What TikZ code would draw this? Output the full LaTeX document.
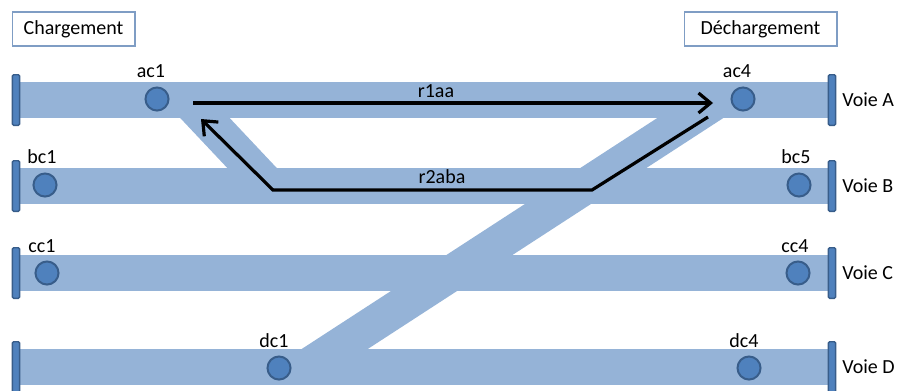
\documentclass[tikz,border=0pt]{standalone}
\usepackage{fontspec}
\setmainfont{Carlito}
\usetikzlibrary{arrows.meta}
\definecolor{trackc}{HTML}{95B3D7}
\definecolor{dotc}{HTML}{4F81BD}
\definecolor{dotb}{HTML}{385D8A}
\definecolor{boxb}{HTML}{7F9DC4}
\begin{document}
\begin{tikzpicture}[x=0.75pt,y=-0.75pt,
  font=\fontsize{15pt}{18pt}\selectfont,
  trackband/.style={draw=trackc, line width=27pt},
  sensor/.style={circle, fill=dotc, draw=dotb, line width=1.5pt, minimum size=17.3pt, inner sep=0pt},
  stopbar/.style={rectangle, fill=dotc, draw=dotb, line width=1pt, minimum width=5.4pt, minimum height=38pt, rounded corners=1pt, inner sep=0pt},
  route/.style={line width=2.4pt, line join=miter, -{Straight Barb[length=9pt,width=15pt]}},
  lbl/.style={anchor=base, inner sep=0pt},
  voie/.style={anchor=west, inner sep=0pt},
  titlebox/.style={draw=boxb, line width=0.8pt, fill=white, minimum height=25.5pt, inner sep=0pt}]
\useasboundingbox (0,0) rectangle (898,390);
% track end coordinates
\coordinate (AL) at (16,100); \coordinate (AR) at (832,100);
\coordinate (BL) at (16,186); \coordinate (BR) at (832,186);
\coordinate (CL) at (16,273); \coordinate (CR) at (832,273);
\coordinate (DL) at (16,367); \coordinate (DR) at (832,367);
\coordinate (X1a) at (188,100); \coordinate (X1b) at (269,186);
\coordinate (X2a) at (307,367); \coordinate (X2b) at (718,100);
% tracks
\draw[trackband] (AL) -- (AR);
\draw[trackband] (BL) -- (BR);
\draw[trackband] (CL) -- (CR);
\draw[trackband] (DL) -- (DR);
\draw[trackband] (X1a) -- (X1b);
\draw[trackband] (X2a) -- (X2b);
% stop bars
\node[stopbar] (sAL) at (AL) {};
\node[stopbar] (sBL) at (BL) {};
\node[stopbar] (sCL) at (CL) {};
\node[stopbar] (sDL) at (DL) {};
\node[stopbar] (sAR) at (AR) {};
\node[stopbar] (sBR) at (BR) {};
\node[stopbar] (sCR) at (CR) {};
\node[stopbar] (sDR) at (DR) {};
% sensors
\node[sensor] (ac1) at (157,99) {};
\node[sensor] (ac4) at (743,99) {};
\node[sensor] (bc1) at (45,185) {};
\node[sensor] (bc5) at (799,185) {};
\node[sensor] (cc1) at (47,273) {};
\node[sensor] (cc4) at (798,273) {};
\node[sensor] (dc1) at (279,368) {};
\node[sensor] (dc4) at (749,368) {};
% sensor labels
\node[lbl] (lac1) at (151,77) {ac1};
\node[lbl] (lac4) at (737,77) {ac4};
\node[lbl] (lbc1) at (42,163) {bc1};
\node[lbl] (lbc5) at (796,163) {bc5};
\node[lbl] (lcc1) at (42,252) {cc1};
\node[lbl] (lcc4) at (795,252) {cc4};
\node[lbl] (ldc1) at (274,347) {dc1};
\node[lbl] (ldc4) at (744,347) {dc4};
% voie labels
\node[voie] (vA) at (842,100) {Voie A};
\node[voie] (vB) at (842,186) {Voie B};
\node[voie] (vC) at (842,273) {Voie C};
\node[voie] (vD) at (842,367) {Voie D};
% title boxes
\node[titlebox, minimum width=92.2pt] (charg) at (73.5,29) {Chargement};
\node[titlebox, minimum width=114.7pt] (decharg) at (760.5,29) {Déchargement};
% routes
\coordinate (r1s) at (193,103); \coordinate (r1e) at (713,103);
\coordinate (r2s) at (708,117); \coordinate (r2p) at (592,190);
\coordinate (r2q) at (273,190); \coordinate (r2e) at (201,119);
\draw[route] (r1s) -- (r1e);
\draw[route] (r2s) -- (r2p) -- (r2q) -- (r2e);
\node[lbl] (lr1) at (436,97) {r1aa};
\node[lbl] (lr2) at (442,183) {r2aba};
\end{tikzpicture}
\end{document}
